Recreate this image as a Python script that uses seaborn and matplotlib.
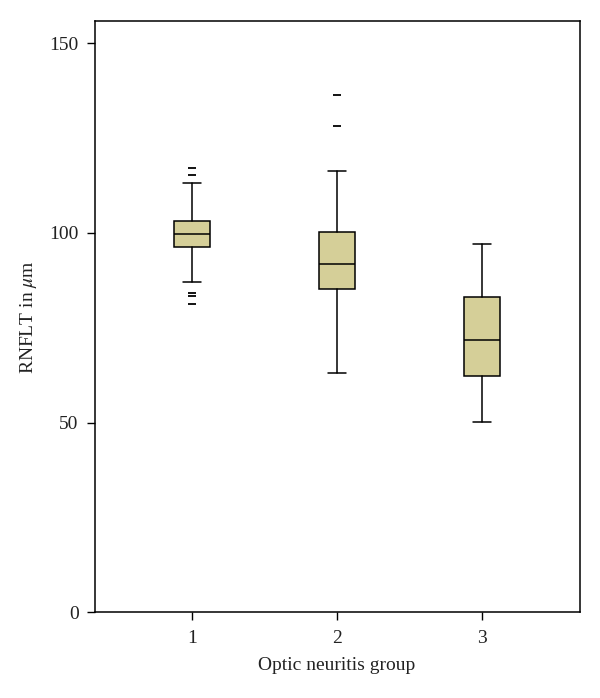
import matplotlib
matplotlib.use("Agg")
import matplotlib.pyplot as plt
import seaborn as sns

# Data
groups = ["1", "2", "3"]
q1 = [96.2, 85.1, 62.2]
medians = [99.7, 91.8, 71.8]
q3 = [103.2, 100.1, 83.2]
whisker_low = [87.1, 63.2, 50.1]
whisker_high = [113.2, 116.4, 97.1]
outliers = [[117.1, 115.2, 84.2, 83.4, 81.2], [136.3, 128.2], []]
y_ticks = [0, 50, 100, 150]

sns.set_theme(style="ticks")
plt.rcParams["font.family"] = ["Liberation Serif", "DejaVu Serif"]
plt.rcParams["mathtext.fontset"] = "stix"

fig = plt.figure(figsize=(6.0, 6.98), dpi=100)
ax = fig.add_axes([0.1575, 0.1225, 0.8085, 0.8468])

stats = []
for i, g in enumerate(groups):
    stats.append(dict(label=g, med=medians[i], q1=q1[i], q3=q3[i],
                      whislo=whisker_low[i], whishi=whisker_high[i],
                      fliers=outliers[i]))

ax.bxp(stats, positions=[1, 2, 3], widths=0.25, patch_artist=True,
       boxprops=dict(facecolor="#d5cf98", edgecolor="black", linewidth=1.1),
       medianprops=dict(color="black", linewidth=1.1),
       whiskerprops=dict(color="black", linewidth=1.1),
       capprops=dict(color="black", linewidth=1.1),
       flierprops=dict(marker="_", markersize=6, markeredgecolor="black",
                       markeredgewidth=1.3, linestyle="none"))

ax.set_xlim(0.33, 3.67)
ax.set_ylim(0, 155.7)
ax.set_yticks(y_ticks)
ax.set_xticks([1, 2, 3])
ax.set_xticklabels(groups)
for s in ax.spines.values():
    s.set_color("black")
    s.set_linewidth(1.1)
ax.tick_params(axis="both", direction="out", length=5.5, width=1.0,
               color="black", labelsize=14, labelcolor="#222222")
ax.tick_params(axis="y", pad=6)
ax.tick_params(axis="x", pad=7)
ax.set_xlabel("Optic neuritis group", fontsize=14, labelpad=7, color="#222222")
ax.set_ylabel(r"RNFLT in $\mu$m", fontsize=14, labelpad=7, color="#222222")

fig.savefig("out.png", dpi=100, facecolor="white")
